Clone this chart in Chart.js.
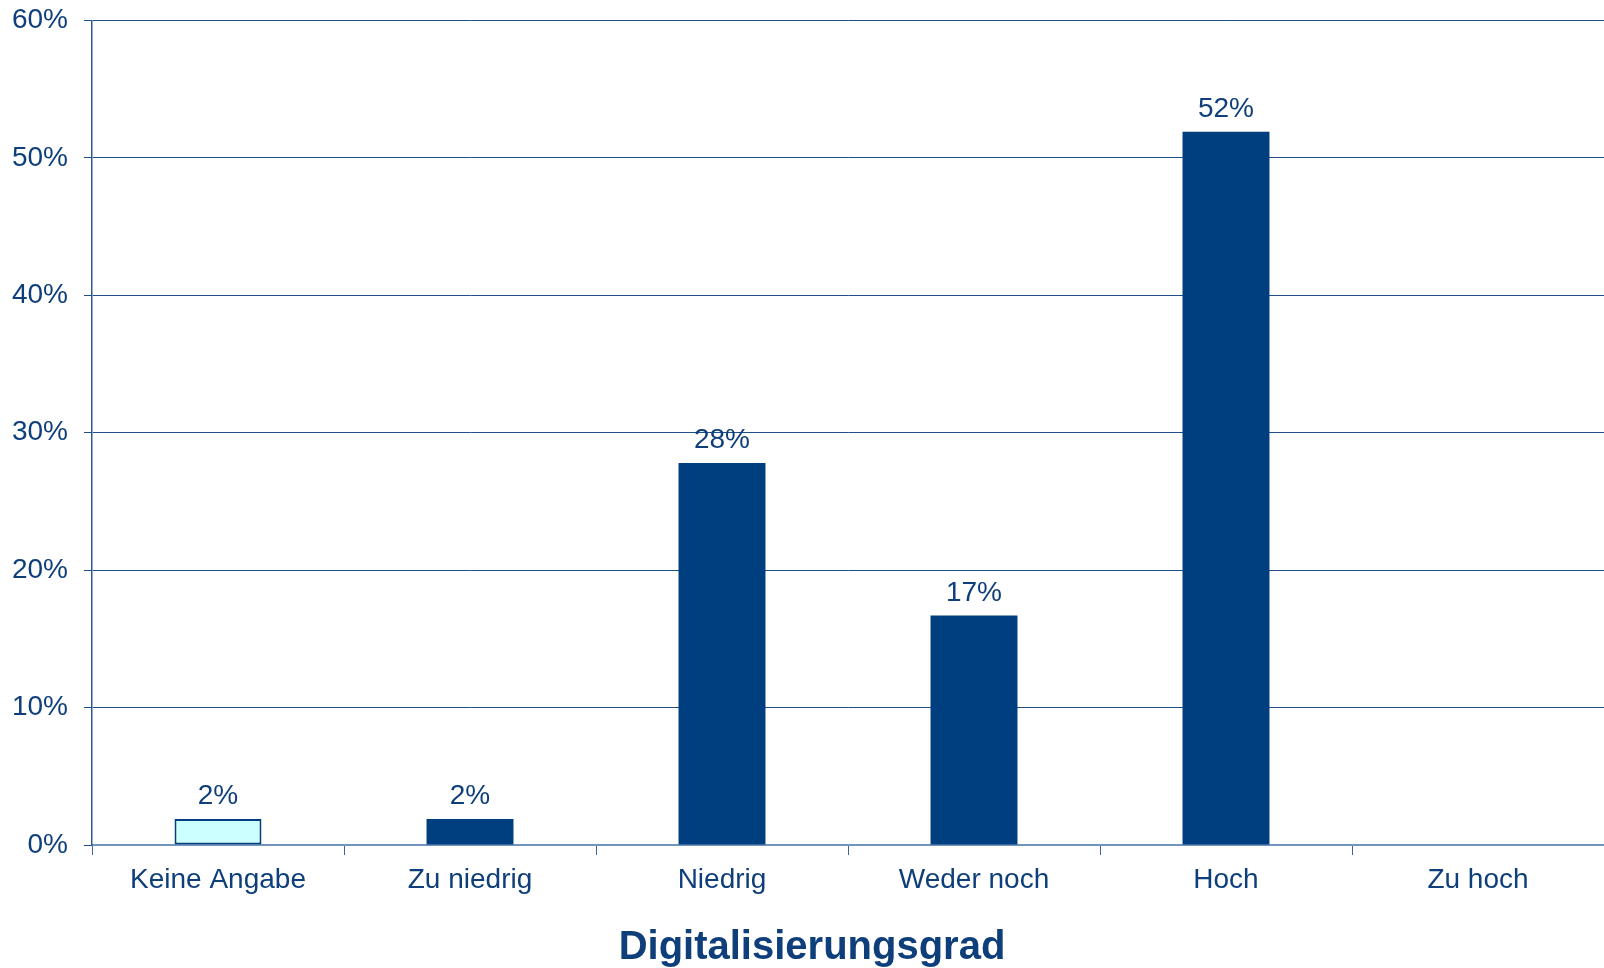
<!DOCTYPE html>
<html>
<head>
<meta charset="utf-8">
<script src="https://cdn.jsdelivr.net/npm/chart.js@4/dist/chart.umd.min.js"></script>
<style>
  html, body { margin: 0; padding: 0; background: #ffffff; }
  #wrap { width: 1604px; height: 968px; position: relative; }
</style>
</head>
<body>
<div id="wrap"><canvas id="c" width="1604" height="968"></canvas></div>
<script>
const categories = ["Keine Angabe", "Zu niedrig", "Niedrig", "Weder noch", "Hoch", "Zu hoch"];
const values = [1.9, 1.9, 27.8, 16.7, 51.9, null];
const valueLabels = ["2%", "2%", "28%", "17%", "52%", ""];
const yTicks = [0, 10, 20, 30, 40, 50, 60];
const axisTitle = "Digitalisierungsgrad";

const NAVY = "#003f7f";
const TEXT = "#0e3f7b";
const FONT = "'Liberation Sans', Arial, sans-serif";

const labelPlugin = {
  id: "valueLabels",
  afterLayout(chart) {
    // title is centred slightly right of the canvas centre in the reference
    if (chart.titleBlock) chart.titleBlock.left = 20;
  },
  afterDatasetsDraw(chart) {
    const ctx = chart.ctx;
    const meta = chart.getDatasetMeta(0);
    ctx.save();
    ctx.font = "28px " + FONT;
    ctx.fillStyle = TEXT;
    ctx.textAlign = "center";
    ctx.textBaseline = "alphabetic";
    meta.data.forEach((bar, i) => {
      if (values[i] === null || !valueLabels[i]) return;
      ctx.fillText(valueLabels[i], bar.x, bar.y - 15);
    });
    ctx.restore();
  }
};

new Chart(document.getElementById("c"), {
  type: "bar",
  data: {
    labels: categories,
    datasets: [{
      data: values,
      backgroundColor: ["#ccffff", NAVY, NAVY, NAVY, NAVY, NAVY],
      borderColor: NAVY,
      borderWidth: [2, 0, 0, 0, 0, 0],
      borderSkipped: false,
      categoryPercentage: 1,
      barPercentage: 0.345
    }]
  },
  options: {
    responsive: false,
    animation: false,
    devicePixelRatio: 1,
    layout: { autoPadding: false, padding: { top: 20.5, right: 0, bottom: 0, left: 0 } },
    plugins: {
      legend: { display: false },
      tooltip: { enabled: false },
      title: {
        display: true,
        position: "bottom",
        text: axisTitle,
        color: TEXT,
        font: { family: FONT, size: 40, weight: "bold", lineHeight: 1 },
        padding: { top: 0, bottom: 0 }
      }
    },
    scales: {
      x: {
        offset: true,
        afterFit(scale) { scale.height = 83; scale.paddingLeft = 0; scale.paddingRight = 0; },
        grid: {
          display: true,
          offset: true,
          drawOnChartArea: false,
          drawTicks: true,
          tickLength: 10,
          tickColor: "#3a6699",
          color: "#3a6699",
          lineWidth: 1
        },
        border: { display: true, color: "#7395bd", width: 2 },
        ticks: {
          color: TEXT,
          font: { family: FONT, size: 28 },
          padding: 8,
          maxRotation: 0,
          autoSkip: false
        }
      },
      y: {
        min: 0,
        max: 60,
        afterFit(scale) { scale.width = 92; scale.paddingTop = 0; scale.paddingBottom = 0; },
        afterBuildTicks(scale) { scale.ticks = yTicks.map(v => ({ value: v })); },
        grid: {
          color: "#1f4f8a",
          lineWidth: 1,
          borderDash: [1, 1],
          drawTicks: true,
          tickLength: 8,
          tickColor: "#1f4f8a",
          tickBorderDash: []
        },
        border: { display: true, color: "#2a5a92", width: 1.5 },
        ticks: {
          color: TEXT,
          font: { family: FONT, size: 28 },
          padding: 16,
          callback: v => v + "%"
        }
      }
    }
  },
  plugins: [labelPlugin]
});
</script>
</body>
</html>
